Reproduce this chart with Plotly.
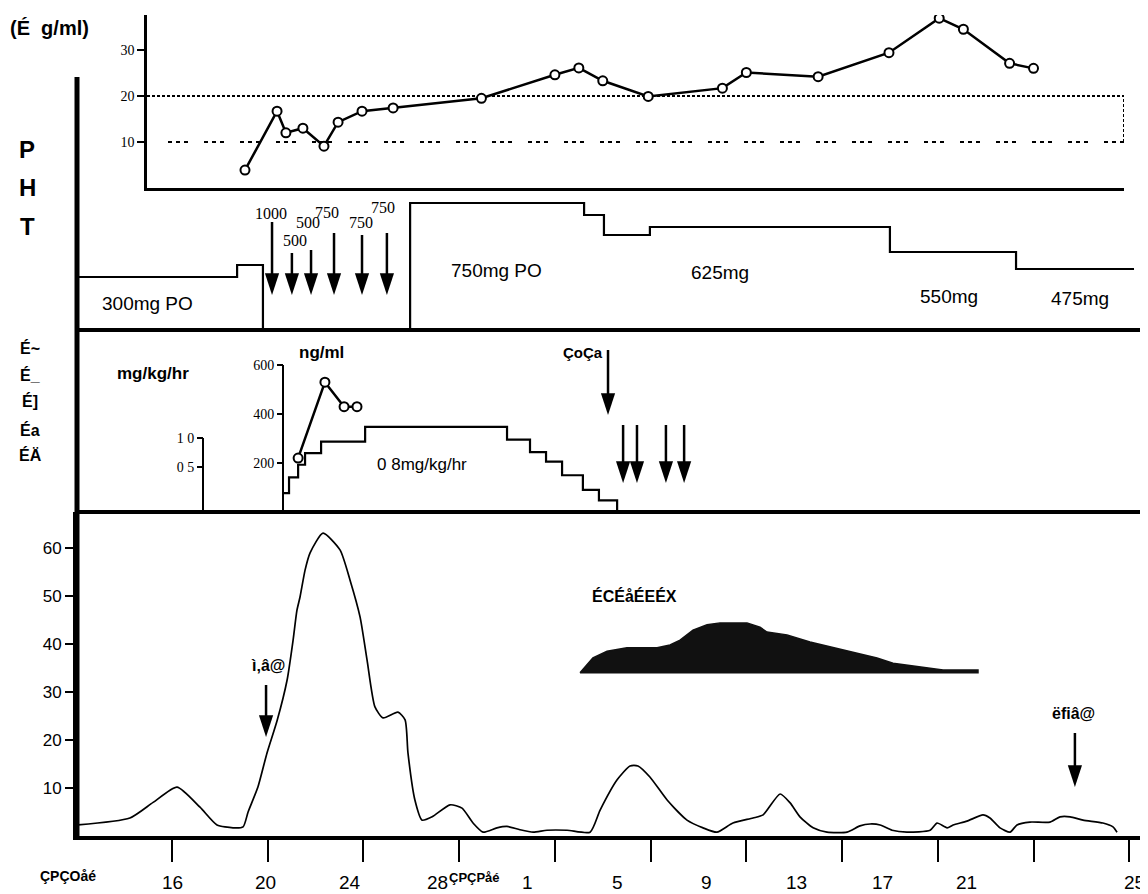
import plotly.graph_objects as go

W, H = 1148, 894

# ---------------- data ----------------
# time axis in days (second month continues: 32 = day 1)
tick_days = [16, 20, 24, 28, 32, 36, 40, 44, 48, 52, 56]
tick_text = ["16", "20", "24", "28", "1", "5", "9", "13", "17", "21", "25"]
label_days = [16.0, 19.9, 23.45, 27.1, 30.85, 34.6, 38.35, 42.1, 45.7, 49.2, 56.2]

# PHT serum level (ug/ml)
pht_day = [19.05, 20.39, 20.76, 21.47, 22.35, 22.94, 23.94, 25.24, 28.93, 32.0, 33.0,
           34.0, 35.9, 39.0, 40.0, 43.0, 45.96, 48.06, 49.07, 51.0, 52.0]
pht_level = [3.9, 16.7, 12.0, 13.0, 9.1, 14.3, 16.7, 17.4, 19.5, 24.6, 26.1,
             23.3, 19.9, 21.7, 25.1, 24.2, 29.4, 36.9, 34.5, 27.1, 26.0]
therapeutic = [10, 20]

# PHT dosing (step heights as drawn)
dose_day = [12.03, 18.72, 19.8, 25.95, 33.22, 34.05, 35.97, 46.0, 51.27, 56.2]
dose_height = [53, 65, 0, 127, 115, 95, 103, 78, 61, 61]
load_day = [20.18, 21.01, 21.81, 22.77, 23.94, 24.98]
load_mg = ["1000", "500", "500", "750", "750", "750"]

# midazolam panel
conc_day = [21.27, 22.39, 23.19, 23.73]
conc_ngml = [220, 530, 430, 430]
rate_day = [20.68, 20.89, 21.27, 21.56, 22.23, 24.07, 30.0, 30.96, 31.63, 32.3, 33.17, 33.84, 34.6]
rate_mgkghr = [0.18, 0.33, 0.45, 0.56, 0.67, 0.81, 0.69, 0.57, 0.48, 0.35, 0.21, 0.11, 0.0]
coca_day = 34.22
extra_day = [34.85, 35.43, 36.64, 37.4]

# bottom panel curve
eeg_day = [12.07, 14.24, 15.21, 16.21, 17.17, 17.88, 18.55, 18.97, 19.18, 19.59, 19.97, 20.39,
           20.81, 21.06, 21.22, 21.35, 21.56, 21.77, 22.31, 23.02, 23.44, 23.86, 24.15, 24.48,
           24.82, 25.44, 25.74, 25.86, 26.15, 26.45, 26.87, 27.62, 28.12, 28.58, 29.0, 29.58,
           30.0, 30.54, 31.09, 31.67, 32.51, 33.47, 33.89, 34.6, 35.14, 35.47, 35.97, 36.69,
           37.52, 38.19, 38.77, 39.44, 40.28, 40.7, 41.41, 41.83, 42.24, 42.79, 43.37, 44.21,
           44.75, 45.17, 45.59, 46.09, 46.71, 47.68, 47.97, 48.39, 48.64, 49.22, 49.89, 50.18,
           50.6, 51.02, 51.31, 51.85, 52.69, 53.11, 53.53, 54.07, 54.9, 55.32, 55.49]
eeg_val = [2.3, 3.75, 7.0, 10.2, 6.0, 2.3, 1.7, 1.9, 5.0, 10.2, 17.3, 24.0,
           32.5, 40.8, 47.0, 49.8, 55.4, 59.0, 63.1, 59.6, 53.3, 45.6, 36.7, 26.9,
           24.6, 25.8, 24.2, 17.3, 7.5, 3.3, 4.0, 6.5, 5.8, 2.7, 0.8, 1.7,
           2.0, 1.3, 0.8, 1.2, 1.2, 0.8, 5.4, 11.7, 14.6, 14.6, 12.3, 7.5,
           3.3, 1.7, 0.8, 2.7, 3.75, 4.4, 8.75, 6.9, 4.0, 1.7, 0.8, 0.8,
           2.1, 2.5, 2.3, 1.2, 0.8, 1.2, 2.7, 1.7, 2.3, 3.1, 4.4, 3.75,
           1.7, 0.8, 2.3, 2.9, 2.9, 4.0, 4.0, 3.3, 2.7, 1.9, 0.8]

band_day = [33.05, 33.59, 34.18, 35.01, 36.27, 36.81, 37.23, 37.77, 38.36, 38.9, 40.03,
            40.57, 40.86, 41.7, 42.66, 44.04, 45.46, 46.13, 47.55, 48.22, 49.68]
band_top = [34.0, 37.1, 38.5, 39.2, 39.2, 39.8, 40.8, 42.9, 44.0, 44.4, 44.4,
            43.5, 42.5, 41.9, 40.4, 38.75, 37.1, 36.0, 35.0, 34.6, 34.6]
band_base = 34.0

admit_day, disch_day = 19.93, 53.73

# ---------------- geometry helpers (styling) ----------------
SANS = "Liberation Sans, Arial, sans-serif"
NARROW = "Liberation Sans Narrow, Liberation Sans, Arial, sans-serif"
SERIF = "Liberation Serif, Times New Roman, serif"
OFF = 8  # page body margin


def pxx(px):
    return (px - OFF) / W


def pxy(py):
    return 1 - (py - OFF) / H


X_L, X_R = 77, 1140
X_R0, X_R1 = 12.03, 56.45


def px_day(px):
    return X_R0 + (px - X_L) / (X_R - X_L) * (X_R1 - X_R0)


# vertical pixel bands: (bottom_px, top_px, range)
P1 = (188, 15, [0, 37.6])
P2 = (330, 190, [0, 140])
P3NG = (512, 330, [0, 182 / 0.245])
P3RATE = (512, 330, [0, 182 / 105])
P3AX = (512, 330, [(496 - 512) / 58, (496 - 330) / 58])
P4 = (836, 512, [0, (836 - 512) / 4.8])


def val(panel, py):
    pb, pt, (r0, r1) = panel
    return r0 + (pb - py) / (pb - pt) * (r1 - r0)


def dom(panel):
    pb, pt, _ = panel
    return [pxy(pb), pxy(pt)]


fig = go.Figure()
BLACK = "black"

# ---- panel 1: PHT level ----
x2r0, x2r1 = px_day(147), px_day(1124)
fig.add_trace(go.Scatter(x=[x2r0, x2r1, x2r1], y=[therapeutic[1]] * 2 + [therapeutic[0]],
                         xaxis="x2", yaxis="y6", mode="lines",
                         line=dict(color=BLACK, width=2, dash="3px,2px"), hoverinfo="skip"))
fig.add_trace(go.Scatter(x=[px_day(168), x2r1], y=[therapeutic[0]] * 2,
                         xaxis="x2", yaxis="y6", mode="lines",
                         line=dict(color=BLACK, width=2, dash="4px,4px,4px,4px,4px,16px"),
                         hoverinfo="skip"))
fig.add_trace(go.Scatter(x=pht_day, y=pht_level, xaxis="x2", yaxis="y6", mode="lines+markers",
                         line=dict(color=BLACK, width=2.5),
                         marker=dict(symbol="circle", size=9, color="white",
                                     line=dict(color=BLACK, width=2))))

# ---- panel 2: dose steps ----
fig.add_trace(go.Scatter(x=dose_day, y=dose_height, xaxis="x", yaxis="y2", mode="lines",
                         line=dict(color=BLACK, width=2.2, shape="hv")))

# ---- panel 3 ----
fig.add_trace(go.Scatter(x=rate_day, y=rate_mgkghr, xaxis="x", yaxis="y5", mode="lines",
                         line=dict(color=BLACK, width=2.2, shape="hv")))
fig.add_trace(go.Scatter(x=conc_day, y=conc_ngml, xaxis="x", yaxis="y3", mode="lines+markers",
                         line=dict(color=BLACK, width=2.5),
                         marker=dict(symbol="circle", size=9, color="white",
                                     line=dict(color=BLACK, width=2))))

# ---- panel 4 ----
fig.add_trace(go.Scatter(x=band_day + band_day[::-1][:1] + band_day[:1],
                         y=band_top + [band_base, band_base],
                         xaxis="x", yaxis="y", mode="lines", fill="toself",
                         fillcolor="#111", line=dict(color="#111", width=1.5)))
fig.add_trace(go.Scatter(x=eeg_day, y=eeg_val, xaxis="x", yaxis="y", mode="lines",
                         line=dict(color=BLACK, width=1.7, shape="spline", smoothing=0.6)))

# ---- arrows (shaft = shape, head = marker) ----
shapes = []
head_x, head_y, head_ax = [], [], []


def arrow(day, tail_py, tip_py, panel, yaxis):
    shapes.append(dict(type="line", xref="x", yref="paper", x0=day, x1=day,
                       y0=pxy(tail_py), y1=pxy(tip_py - 8), line=dict(color=BLACK, width=2.5)))
    head_x.append(day)
    head_y.append(val(panel, tip_py))
    head_ax.append(yaxis)


load_tail = [222, 253, 250, 233, 235, 233]
for d, t in zip(load_day, load_tail):
    arrow(d, t, 295, P2, "y2")
arrow(coca_day, 350, 415, P3NG, "y3")
for d in extra_day:
    arrow(d, 425, 483, P3NG, "y3")
arrow(admit_day, 685, 737, P4, "y")
arrow(disch_day, 733, 787, P4, "y")

for yax in ["y2", "y3", "y"]:
    xs = [x for x, a in zip(head_x, head_ax) if a == yax]
    ys = [y for y, a in zip(head_y, head_ax) if a == yax]
    fig.add_trace(go.Scatter(x=xs, y=ys, xaxis="x", yaxis=yax, mode="markers",
                             marker=dict(symbol="arrow", angle=180, size=23, color=BLACK,
                                         line=dict(width=0)), hoverinfo="skip"))

# frame lines
shapes += [
    dict(type="line", xref="paper", yref="paper", x0=pxx(77), x1=pxx(77),
         y0=pxy(77), y1=pxy(838), line=dict(color=BLACK, width=5)),
    dict(type="line", xref="paper", yref="paper", x0=pxx(77), x1=pxx(1140),
         y0=pxy(330), y1=pxy(330), line=dict(color=BLACK, width=4)),
    dict(type="line", xref="paper", yref="paper", x0=pxx(77), x1=pxx(1140),
         y0=pxy(512), y1=pxy(512), line=dict(color=BLACK, width=4)),
    # ng/ml axis line and mg/kg/hr axis line
    dict(type="line", xref="x", yref="y3", x0=px_day(283), x1=px_day(283), y0=0, y1=600,
         line=dict(color=BLACK, width=2)),
    dict(type="line", xref="x", yref="y4", x0=px_day(203), x1=px_day(203),
         y0=P3AX[2][0], y1=1.0, line=dict(color=BLACK, width=2)),
]

# ---- text ----
ann = []


def txt(px, py, text, size, font=SANS, bold=False, xanchor="center"):
    ann.append(dict(x=pxx(px), y=pxy(py), xref="paper", yref="paper", showarrow=False,
                    text=f"<b>{text}</b>" if bold else text, xanchor=xanchor, yanchor="middle",
                    font=dict(family=font, size=size, color=BLACK)))


# bottom time-axis labels
for d, t in zip(label_days, tick_text):
    ann.append(dict(x=d, y=pxy(882), xref="x", yref="paper", showarrow=False, text=t,
                    xanchor="center", yanchor="middle",
                    font=dict(family=NARROW, size=19, color=BLACK)))

txt(8, 28, "(É  g/ml)", 20, bold=True, xanchor="left")
for t, py in zip(["P", "H", "T"], [150, 188, 226]):
    txt(27, py, t, 24, bold=True)
for t, py in zip(["É~", "É_", "É]", "Éa", "ÉÄ"], [348, 375, 401, 430, 455]):
    txt(30, py, t, 16, bold=True)

txt(147, 303, "300mg PO", 19)
txt(496, 270, "750mg PO", 19)
txt(720, 272, "625mg", 19)
txt(949, 296, "550mg", 19)
txt(1080, 298, "475mg", 19)

for t, (px, py) in zip(load_mg, [(271, 213), (295, 241), (308, 223), (327, 212), (361, 223), (383, 207)]):
    txt(px, py, t, 16, font=SERIF)

txt(153, 374, "mg/kg/hr", 17, font=NARROW, bold=True)
txt(322, 352, "ng/ml", 17, font=NARROW, bold=True)
txt(422, 465, "0 8mg/kg/hr", 17, font=NARROW)
txt(583, 352, "ÇoÇa", 15, bold=True)
txt(634, 596, "ÉCÉåÉEÉX", 16, bold=True)
txt(268, 665, "ì‚â@", 16, bold=True)
txt(1073, 713, "ëfiâ@", 16, bold=True)
txt(38, 876, "ÇPÇOåé", 14, bold=True, xanchor="left")
txt(447, 877, "ÇPÇPåé", 13, bold=True, xanchor="left")

fig.update_layout(
    width=W, height=H, margin=dict(l=0, r=0, t=0, b=0),
    paper_bgcolor="white", plot_bgcolor="rgba(0,0,0,0)", showlegend=False,
    shapes=shapes, annotations=ann,
    xaxis=dict(domain=[pxx(X_L), pxx(X_R)], range=[X_R0, X_R1], anchor="y",
               showline=True, linewidth=4, linecolor=BLACK, showgrid=False, zeroline=False,
               tickvals=tick_days, ticks="outside", ticklen=22, tickwidth=1.5, tickcolor=BLACK,
               showticklabels=False),
    xaxis2=dict(domain=[pxx(147), pxx(1124)], range=[x2r0, x2r1], anchor="y6",
                showline=True, linewidth=3, linecolor=BLACK, showgrid=False, zeroline=False,
                showticklabels=False, ticks=""),
    yaxis=dict(domain=dom(P4), range=P4[2], anchor="x", showline=True, linewidth=4,
               linecolor=BLACK, showgrid=False, zeroline=False, tickvals=[10, 20, 30, 40, 50, 60],
               ticks="outside", ticklen=8, tickwidth=1.5, tickcolor=BLACK,
               tickfont=dict(family=SANS, size=17, color=BLACK)),
    yaxis2=dict(domain=dom(P2), range=P2[2], anchor="x", visible=False),
    yaxis3=dict(domain=dom(P3NG), range=P3NG[2], anchor="free",
                position=pxx(283), showline=False, showgrid=False, zeroline=False,
                tickvals=[200, 400, 600], ticks="outside", ticklen=6, tickwidth=1.5,
                tickcolor=BLACK, tickfont=dict(family=SERIF, size=14, color=BLACK)),
    yaxis4=dict(overlaying="y3", range=P3AX[2], anchor="free", position=pxx(203),
                showline=False, showgrid=False, zeroline=False, tickvals=[0.5, 1.0],
                ticktext=["0 5", "1 0"], ticks="outside", ticklen=6, tickwidth=1.5,
                tickcolor=BLACK, tickfont=dict(family=SERIF, size=14, color=BLACK)),
    yaxis5=dict(overlaying="y3", range=P3RATE[2], anchor="free", position=0, visible=False),
    yaxis6=dict(domain=dom(P1), range=P1[2], anchor="x2", showline=True, linewidth=2.5,
                linecolor=BLACK, showgrid=False, zeroline=False, tickvals=[10, 20, 30],
                ticks="outside", ticklen=7, tickwidth=2, tickcolor=BLACK,
                tickfont=dict(family=SERIF, size=14, color=BLACK)),
)

fig.write_html("out.html")
